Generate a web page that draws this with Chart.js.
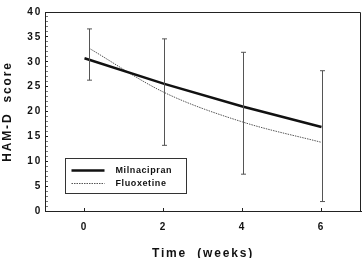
<!DOCTYPE html>
<html>
<head>
<meta charset="utf-8">
<script src="https://cdn.jsdelivr.net/npm/chart.js@4"></script>
<style>
  html, body { margin: 0; padding: 0; background: #fff; }
  #wrap { width: 363px; height: 258px; position: relative; }
</style>
</head>
<body>
<div id="wrap"><canvas id="hamd"></canvas></div>
<script>
const seriesNames = ["Milnacipran", "Fluoxetine"];
const weeksMil = [0, 2, 4, 6];
const scoreMil = [30.7, 25.6, 21.0, 16.9];
const weeksFlx = [0.12, 2, 4, 6];
const scoreFlx = [32.7, 23.9, 17.9, 13.8];
const errWeeks = [0.12, 2, 4, 6];
const errHigh = [36.6, 34.6, 31.9, 28.2];
const errLow = [26.3, 13.2, 7.4, 1.9];
const xTicks = [0, 2, 4, 6];

const ink = "#222";
const font = { family: "'Liberation Sans', Arial, sans-serif", weight: "bold" };

/* ── wide letter spacing like the scanned figure ── */
const spacing = {
  id: "spacing",
  beforeDraw(chart) { chart.ctx.letterSpacing = "1.8px"; },
  afterDraw(chart) { chart.ctx.letterSpacing = "0px"; },
};

/* ── error bars + frame ── */
const errorBars = {
  id: "errorBars",
  afterDatasetsDraw(chart) {
    const { ctx, scales: { x, y }, chartArea: a } = chart;
    ctx.save();
    ctx.strokeStyle = "#555";
    ctx.lineWidth = 1;
    errWeeks.forEach((w, i) => {
      const px = Math.round(x.getPixelForValue(w)) + 0.5;
      const top = y.getPixelForValue(errHigh[i]);
      const bot = y.getPixelForValue(errLow[i]);
      ctx.beginPath();
      ctx.moveTo(px, top); ctx.lineTo(px, bot);
      ctx.moveTo(px - 2.5, top); ctx.lineTo(px + 2.5, top);
      ctx.moveTo(px - 2.5, bot); ctx.lineTo(px + 2.5, bot);
      ctx.stroke();
    });
    // top and right border of the plot
    ctx.strokeStyle = ink;
    ctx.beginPath();
    ctx.moveTo(a.left, a.top + 0.5); ctx.lineTo(a.right - 0.5, a.top + 0.5);
    ctx.lineTo(a.right - 0.5, a.bottom);
    ctx.stroke();
    ctx.restore();
  },
};

/* ── legend box inside plot ── */
const boxLegend = {
  id: "boxLegend",
  afterDraw(chart) {
    const { ctx, scales: { x, y } } = chart;
    const left = Math.round(x.getPixelForValue(-0.5)) + 0.5;
    const right = Math.round(x.getPixelForValue(2.58)) + 0.5;
    const top = Math.round(y.getPixelForValue(10.6)) + 0.5;
    const bottom = Math.round(y.getPixelForValue(3.6)) + 0.5;
    ctx.save();
    ctx.letterSpacing = "0.6px";
    ctx.fillStyle = "#fff";
    ctx.fillRect(left, top, right - left, bottom - top);
    ctx.strokeStyle = "#333";
    ctx.lineWidth = 1;
    ctx.strokeRect(left, top, right - left, bottom - top);
    ctx.font = "bold 9px 'Liberation Sans', Arial, sans-serif";
    ctx.fillStyle = "#111";
    ctx.textBaseline = "middle";
    chart.data.datasets.forEach((ds, i) => {
      const ly = top + 12 + i * 13;
      ctx.beginPath();
      ctx.strokeStyle = ds.borderColor;
      ctx.lineWidth = ds.borderWidth;
      ctx.setLineDash(ds.borderDash || []);
      ctx.moveTo(left + 6, ly); ctx.lineTo(left + 39, ly);
      ctx.stroke();
      ctx.setLineDash([]);
      ctx.fillText(ds.label, left + 50, ly);
    });
    ctx.restore();
  },
};

new Chart(document.getElementById("hamd"), {
  type: "line",
  data: {
    datasets: [
      {
        label: seriesNames[0],
        data: weeksMil.map((w, i) => ({ x: w, y: scoreMil[i] })),
        borderColor: "#111",
        borderWidth: 2.5,
        pointRadius: 0,
        tension: 0,
      },
      {
        label: seriesNames[1],
        data: weeksFlx.map((w, i) => ({ x: w, y: scoreFlx[i] })),
        borderColor: "#555",
        borderWidth: 1,
        borderDash: [1.5, 1],
        pointRadius: 0,
        cubicInterpolationMode: "monotone",
      },
    ],
  },
  options: {
    responsive: true,
    maintainAspectRatio: false,
    animation: false,
    layout: { padding: { top: 3, right: 2, left: 0, bottom: 0 } },
    plugins: { legend: { display: false }, tooltip: { enabled: false } },
    scales: {
      x: {
        type: "linear",
        min: -1,
        max: 7,
        afterBuildTicks: (s) => { s.ticks = xTicks.map((v) => ({ value: v })); },
        afterFit: (s) => { s.height = 47; },
        border: { color: ink, width: 1 },
        grid: { drawOnChartArea: false, tickLength: -3, color: ink },
        ticks: { color: "#111", padding: 13, font: { ...font, size: 10 } },
        title: { display: true, text: "Time  (weeks)", color: "#111", padding: { top: 0, bottom: -3 }, font: { ...font, size: 12 } },
      },
      y: {
        min: 0,
        max: 40,
        afterFit: (s) => { s.width = 45; },
        border: { color: ink, width: 1 },
        grid: { drawOnChartArea: false, tickLength: -3, color: (c) => (c.tick.value % 5 === 0 ? ink : "#777") },
        ticks: {
          stepSize: 1,
          autoSkip: false,
          color: "#111",
          padding: 6,
          font: { ...font, size: 10 },
          callback: (v) => (v % 5 === 0 ? v : ""),
        },
        title: { display: true, text: "HAM-D  score", color: "#111", padding: { top: 0, bottom: 4 }, font: { ...font, size: 12 } },
      },
    },
  },
  plugins: [spacing, errorBars, boxLegend],
});
</script>
</body>
</html>
